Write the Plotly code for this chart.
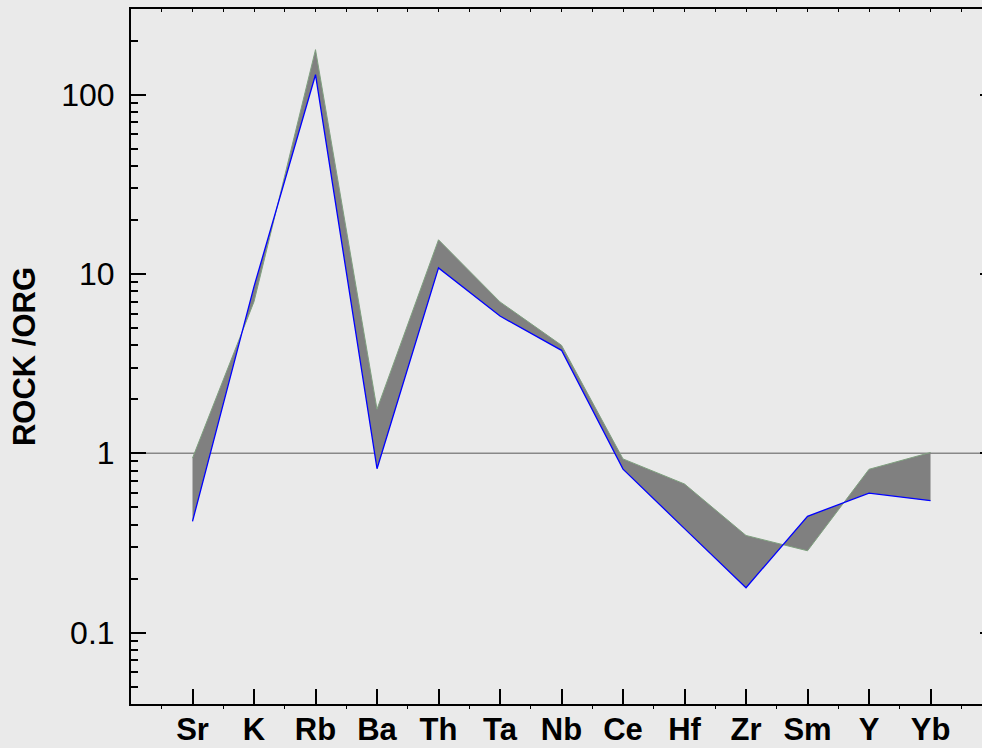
import plotly.graph_objects as go

elements = ["Sr", "K", "Rb", "Ba", "Th", "Ta", "Nb", "Ce", "Hf", "Zr", "Sm", "Y", "Yb"]
upper_series = [0.94, 7.0, 178, 1.76, 15.5, 6.98, 4.0, 0.93, 0.674, 0.348, 0.286, 0.814, 1.01]
blue_series = [0.417, 8.5, 129, 0.82, 10.8, 5.82, 3.75, 0.816, 0.38, 0.178, 0.445, 0.60, 0.544]
y_ticks = [0.1, 1, 10, 100]
y_ticklabels = ["0.1", "1", "10", "100"]

xi = list(range(len(elements)))
BG = "#eaeaea"

fig = go.Figure()
fig.add_trace(go.Scatter(x=xi, y=upper_series, mode="lines",
                         line=dict(color="#7fa07f", width=1), showlegend=False))
fig.add_trace(go.Scatter(x=xi, y=blue_series, mode="lines", fill="tonexty",
                         fillcolor="#808080",
                         line=dict(color="#0000ff", width=1.3), showlegend=False))
# invisible traces to activate the mirrored axes
fig.add_trace(go.Scatter(x=[0], y=[1], xaxis="x2", yaxis="y", mode="markers",
                         marker=dict(opacity=0), showlegend=False, hoverinfo="skip"))
fig.add_trace(go.Scatter(x=[0], y=[1], xaxis="x", yaxis="y2", mode="markers",
                         marker=dict(opacity=0), showlegend=False, hoverinfo="skip"))

fig.add_shape(type="line", xref="paper", x0=0, x1=1, yref="y", y0=1, y1=1,
              line=dict(color="#888888", width=1.5), layer="below")

xr = [-1, 12.837]
yr = [-1.398, 2.477]
minor_vals = []
for d in [0.01, 0.1, 1, 10, 100]:
    for m in range(2, 10):
        v = d * m
        if 0.04 <= v <= 300:
            minor_vals.append(v)

fig.update_layout(
    width=982, height=748,
    margin=dict(l=131, r=0, t=9, b=44),
    paper_bgcolor=BG, plot_bgcolor=BG,
    font=dict(family="Liberation Sans, Arial, sans-serif", color="black"),
    xaxis=dict(range=xr, showgrid=False, zeroline=False, automargin=False,
               tickmode="array", tickvals=xi,
               ticktext=["<b>%s</b>" % e for e in elements],
               ticks="inside", ticklen=15, tickwidth=2, tickcolor="black",
               showline=True, linecolor="black", linewidth=2,
               tickfont=dict(size=31), ticklabelstandoff=-3,
               minor=dict(tickmode="array", tickvals=[v + 0.5 for v in range(-1, 13)],
                          ticks="outside", ticklen=3, tickwidth=1, tickcolor="black")),
    xaxis2=dict(range=xr, overlaying="x", side="top", anchor="y", automargin=False,
                showgrid=False, zeroline=False,
                tickmode="linear", tick0=0, dtick=0.5,
                ticks="inside", ticklen=3, tickwidth=1, tickcolor="black",
                showticklabels=False, showline=True, linecolor="black", linewidth=2),
    yaxis=dict(type="log", range=yr, showgrid=False, zeroline=False, automargin=False,
               tickmode="array", tickvals=y_ticks, ticktext=y_ticklabels,
               ticks="inside", ticklen=15, tickwidth=2, tickcolor="black",
               showline=True, linecolor="black", linewidth=2,
               tickfont=dict(size=32), ticklabelstandoff=8,
               minor=dict(tickmode="array", tickvals=minor_vals,
                          ticks="inside", ticklen=7, tickwidth=2, tickcolor="black"),
               title=dict(text="<b>ROCK /ORG</b>", font=dict(size=31), standoff=16)),
    yaxis2=dict(type="log", range=yr, overlaying="y", side="right", anchor="x",
                automargin=False,
                showgrid=False, zeroline=False, showline=False,
                tickmode="array", tickvals=y_ticks, showticklabels=False,
                ticks="inside", ticklen=2, tickwidth=2, tickcolor="black"),
)

fig.write_html("out.html")
